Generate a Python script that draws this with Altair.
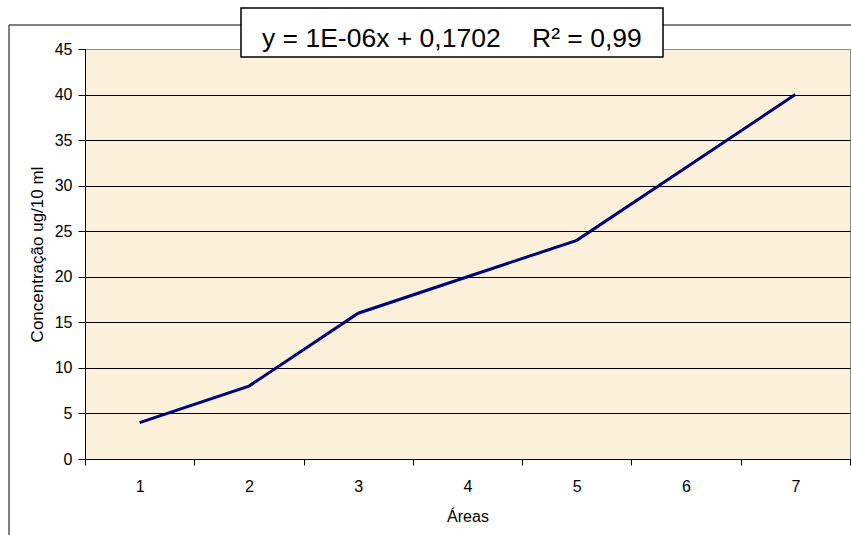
import altair as alt
import pandas as pd

# Calibration points: peak area index vs. concentration
areas = [1, 2, 3, 4, 5, 6, 7]
concentracao = [4, 8, 16, 20, 24, 32, 40]

# Axis ticks and trendline annotation
y_ticks = [0, 5, 10, 15, 20, 25, 30, 35, 40, 45]
eq_text = "y = 1E-06x + 0,1702"
r2_text = "R² = 0,99"

FONT = "Liberation Sans"
LINE_COLOR = "#000080"
PLOT_BG = "#FBF1DA"

df = pd.DataFrame({"area": areas, "conc": concentracao})
note = pd.DataFrame({"eq": [eq_text], "r2": [r2_text]})

x_enc = alt.X(
    "area:O",
    bandPosition=0.5,
    scale=alt.Scale(type="band", paddingInner=0, paddingOuter=0),
    axis=alt.Axis(
        title="Áreas",
        labelAngle=0,
        tickBand="extent",
        tickSize=6,
        tickColor="black",
        domainColor="black",
        labelPadding=13,
        labelFontSize=16,
        labelColor="black",
        labelFont=FONT,
        titleFont=FONT,
        titleFontSize=16,
        titleFontWeight="normal",
        titleColor="black",
        titlePadding=14,
        grid=False,
    ),
)

y_enc = alt.Y(
    "conc:Q",
    scale=alt.Scale(domain=[0, 45], nice=False, zero=True),
    axis=alt.Axis(
        title="Concentração ug/10 ml",
        values=y_ticks,
        tickSize=7,
        tickColor="black",
        domainColor="black",
        labelPadding=6,
        labelFontSize=16,
        labelColor="black",
        labelFont=FONT,
        titleFont=FONT,
        titleFontSize=17,
        titleFontWeight="normal",
        titleColor="black",
        titlePadding=8,
        grid=True,
        gridColor=alt.condition("datum.value == 45", alt.value("#8a8a8a"), alt.value("black")),
        gridWidth=1,
    ),
)

line = alt.Chart(df).mark_line(color=LINE_COLOR, strokeWidth=3, clip=False).encode(x=x_enc, y=y_enc)

ann = alt.Chart(note)

# outer chart frame
frame = ann.mark_rect(fill=None, stroke="black", strokeWidth=1).encode(
    x=alt.value(-76), x2=alt.value(800), y=alt.value(-24), y2=alt.value(520)
)

# trendline equation box
eq_box = ann.mark_rect(fill="white", stroke="black", strokeWidth=1.5).encode(
    x=alt.value(156), x2=alt.value(578), y=alt.value(-41), y2=alt.value(8)
)
eq_label = ann.mark_text(
    font=FONT, fontSize=26.5, fontWeight="normal",
    align="left", baseline="alphabetic", color="black"
).encode(text="eq:N", x=alt.value(177), y=alt.value(-2))
r2_label = ann.mark_text(
    font=FONT, fontSize=26.5, fontWeight="normal",
    align="left", baseline="alphabetic", color="black"
).encode(text="r2:N", x=alt.value(447), y=alt.value(-2))

chart = (
    alt.layer(line, frame, eq_box, eq_label, r2_label)
    .properties(
        width=765,
        height=410,
        autosize=alt.AutoSizeParams(type="none"),
        padding={"left": 85, "top": 49, "right": 1, "bottom": 76},
        background="white",
    )
    .configure_view(fill=PLOT_BG, stroke="#8a8a8a", strokeWidth=1)
)

chart.save("out.html", embed_options={"renderer": "svg", "actions": False})
